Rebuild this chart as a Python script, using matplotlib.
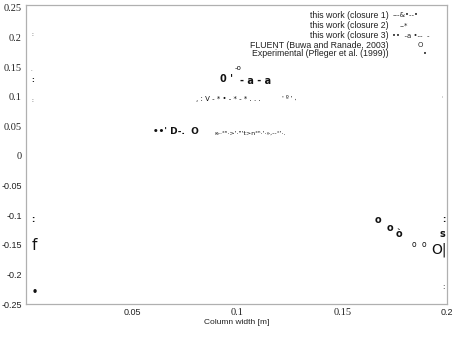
import matplotlib
matplotlib.use('Agg')
import matplotlib.pyplot as plt

# scanned figure: the "markers" are garbled glyphs, kept as text at data coords
glyph_text = ["0 '", "-o", "- a - a", ", : V - * \u2022 - * - * . . .", "' \u00ba ' ,",
              "\u2022\u2022' D-.  O", "\u03ba-\u00b7\u02e3\u207f\u00b7>'\u00b7\"'t>n\u02e3\u207f\u00b7'\u00b7\u00bb,--\u00b0'\u00b7.",
              "o", "o", "\u00f2", "o", "o", "O|", "s", ":", ":", ":",
              ":", "-", ":", ":", ":", "f", "\u2022"]
glyph_x = [0.0915, 0.0985, 0.101, 0.080, 0.121,
           0.0595, 0.089,
           0.1655, 0.171, 0.1757, 0.183, 0.188, 0.1925, 0.1962, 0.1975, 0.1975, 0.1975,
           0.0015, 0.0015, 0.0015, 0.0015, 0.0015, 0.0018, 0.0018]
glyph_y = [0.1305, 0.149, 0.127, 0.0966, 0.098,
           0.0407, 0.039,
           -0.108, -0.121, -0.131, -0.149, -0.149, -0.158, -0.132, -0.108, -0.221, 0.099,
           0.205, 0.144, 0.129, 0.093, -0.107, -0.151, -0.229]
glyph_size = [7, 5, 7, 5, 4.5,
              6.5, 4.5,
              7, 7, 7, 5.5, 5.5, 10, 7, 6, 5, 3,
              4, 3, 5, 4, 6, 11, 7]
glyph_bold = [1, 0, 1, 0, 0,
              1, 0,
              1, 1, 1, 0, 0, 0, 1, 1, 0, 0,
              0, 0, 1, 0, 1, 0, 1]

legend_labels = ['this work (closure 1)', 'this work (closure 2)', 'this work (closure 3)',
                 'FLUENT (Buwa and Ranade, 2003)', 'Experimental (Pfleger et al. (1999))']
legend_marks = ['---&\u2022--\u2022', '--*', '\u2022\u2022  -a \u2022--  -', 'O', '\u2022']
legend_mark_x = [393, 400, 392, 418, 423]
legend_row_y = [15, 25, 35.5, 45, 54]

xticks = [0.05, 0.1, 0.15, 0.2]
xtick_labels = ['0.05', '0.1', '0.15', '0.2']
xtick_serif = [False, True, True, False]
yticks = [0.25, 0.2, 0.15, 0.1, 0.05, 0, -0.05, -0.1, -0.15, -0.2, -0.25]
ytick_labels = ['0.25', '0.2', '0.15', '0.1', '0.05', '0', '-0.05', '-0.1', '-0.15', '-0.2', '-0.25']

fig = plt.figure(figsize=(4.54, 3.38), dpi=100)
ax = fig.add_axes([26/454, 1-304/338, 421/454, 299/338])
ax.set_xlim(-0.001, 0.2)
ax.set_ylim(-0.25, 0.255)

for s in ax.spines.values():
    s.set_color('#b0b0b0')
    s.set_linewidth(0.9)

ax.set_xticks(xticks)
ax.set_xticklabels(xtick_labels)
for lab, serif in zip(ax.get_xticklabels(), xtick_serif):
    lab.set_family('Liberation Serif' if serif else 'Liberation Sans')
    lab.set_fontsize(7.5 if serif else 6.5)
ax.set_yticks(yticks)
ax.set_yticklabels(ytick_labels)
for lab, v in zip(ax.get_yticklabels(), yticks):
    lab.set_family('Liberation Serif' if v >= 0 else 'Liberation Sans')
    lab.set_fontsize(7.5 if v >= 0 else 6.5)
ax.tick_params(length=0, pad=3, colors='#222222')
ax.set_xlabel('Column width [m]', fontsize=6, family='Liberation Sans', labelpad=1, color='#222222')

for t, x, y, sz, b in zip(glyph_text, glyph_x, glyph_y, glyph_size, glyph_bold):
    ax.text(x, y, t, fontsize=sz, fontweight='bold' if b else 'normal',
            ha='left', va='center', color='#111111')

for lab, mk, mx, py in zip(legend_labels, legend_marks, legend_mark_x, legend_row_y):
    fig.text(389/454, 1-py/338, lab, fontsize=6.3, family='Liberation Sans',
             ha='right', va='center', color='#222222')
    fig.text(mx/454, 1-py/338, mk, fontsize=5, ha='left', va='center', color='#222222')

plt.savefig('out.png', dpi=100)
